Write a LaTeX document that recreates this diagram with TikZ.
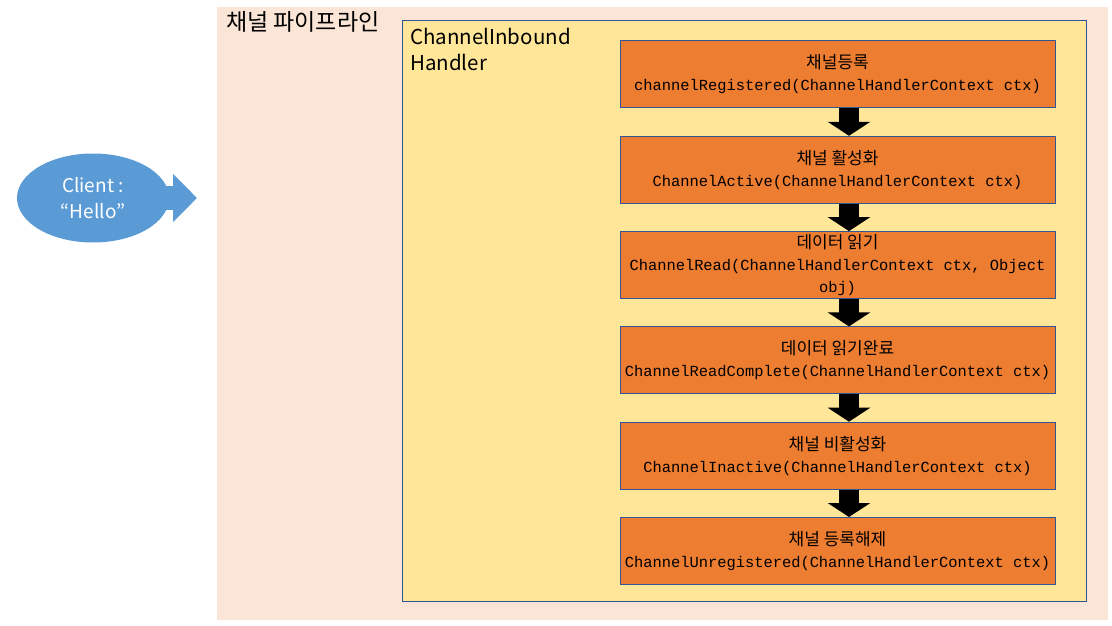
\documentclass[tikz,border=0pt]{standalone}
\usepackage{fontspec}
\setmainfont{Noto Sans CJK KR}
\setmonofont{Liberation Mono}
\usetikzlibrary{positioning,arrows.meta,shapes.geometric}
\definecolor{pipebg}{HTML}{FBE5D6}
\definecolor{handlerbg}{HTML}{FFE699}
\definecolor{stepfill}{HTML}{ED7D31}
\definecolor{edgeblue}{HTML}{2F5597}
\definecolor{clientblue}{HTML}{5B9BD5}
\newcommand{\kor}[1]{{\fontsize{17}{22}\selectfont\rmfamily #1}}
\tikzset{
    node distance=95.3pt, % vertical spacing of the handler steps
    stepbox/.style={draw=edgeblue, line width=1pt, fill=stepfill, minimum width=435pt, minimum height=67pt,
        inner sep=0pt, align=center, font=\fontsize{15.4}{22}\selectfont\ttfamily},
    flow/.style={line width=20pt, black, -{Triangle[width=42pt,length=14pt]}},
}
\begin{document}
\begin{tikzpicture}[x=1pt,y=-1pt,on grid]
      \useasboundingbox (0,0) rectangle (1112,626);
      \fill[pipebg] (217,7) rectangle (1108,620);
      \draw[edgeblue, line width=1pt, fill=handlerbg] (402,21) rectangle (1086,601);
      \node (t_pipeline) [anchor=base west, inner sep=0pt, font=\fontsize{23}{26}\selectfont] at (226,31) {채널 파이프라인};
      \node (t_handler) [anchor=north west, inner sep=0pt, align=left, font=\fontsize{20.5}{26}\selectfont] at (410,28) {ChannelInbound\\Handler};

      \node (s_reg) [stepbox] at (837.5,74.5) {\kor{채널등록}\\channelRegistered(ChannelHandlerContext ctx)};
      \node (s_active) [stepbox, below=of s_reg] {\kor{채널 활성화}\\ChannelActive(ChannelHandlerContext ctx)};
      \node (s_read) [stepbox, below=of s_active] {\kor{데이터 읽기}\\ChannelRead(ChannelHandlerContext ctx, Object\\obj)};
      \node (s_readdone) [stepbox, below=of s_read] {\kor{데이터 읽기완료}\\ChannelReadComplete(ChannelHandlerContext ctx)};
      \node (s_inactive) [stepbox, below=of s_readdone] {\kor{채널 비활성화}\\ChannelInactive(ChannelHandlerContext ctx)};
      \node (s_unreg) [stepbox, below=of s_inactive] {\kor{채널 등록해제}\\ChannelUnregistered(ChannelHandlerContext ctx)};
      \path[flow]
      ([xshift=11.5pt]s_reg.south)       edge ([xshift=11.5pt]s_active.north)
      ([xshift=11.5pt]s_active.south)    edge ([xshift=11.5pt]s_read.north)
      ([xshift=11.5pt]s_read.south)      edge ([xshift=11.5pt]s_readdone.north)
      ([xshift=11.5pt]s_readdone.south)  edge ([xshift=11.5pt]s_inactive.north)
      ([xshift=11.5pt]s_inactive.south)  edge ([xshift=11.5pt]s_unreg.north)
      ;

      % client sending into the pipeline
      \coordinate (c_tip) at (197,198);
      \node (client) [ellipse, fill=clientblue, minimum width=152pt, minimum height=89pt, inner sep=0pt] at (93,198) {};
      \draw[clientblue, line width=24pt, -{Triangle[width=47pt,length=24pt]}] (client.center) -- (c_tip);
      \node (client_txt) [align=center, text=white, font=\fontsize{19}{26}\selectfont] at (client) {Client :\\“Hello”};
\end{tikzpicture}
\end{document}
